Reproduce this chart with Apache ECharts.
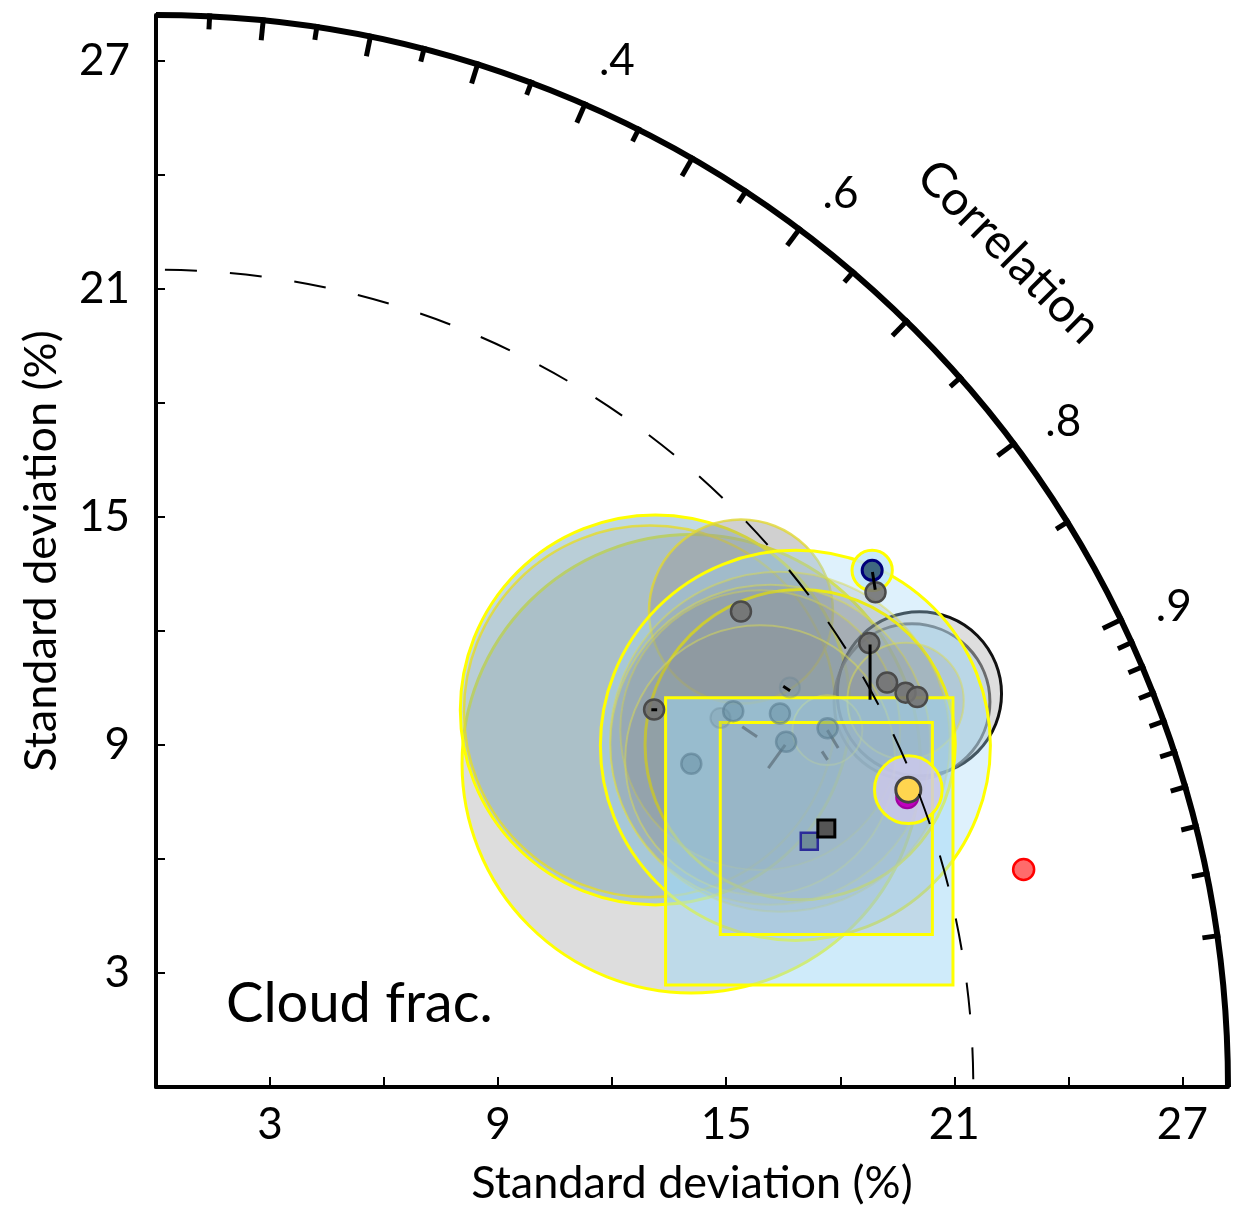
<!DOCTYPE html>
<html>
<head>
<meta charset="UTF-8">
<title>taylor_cloud_frac</title>
<script src="https://cdn.jsdelivr.net/npm/echarts@6/dist/echarts.min.js"></script>
<style>
  html, body { margin: 0; padding: 0; background: #fff; }
  #main { width: 1242px; height: 1219px; }
</style>
</head>
<body>
<div id="main"></div>
<script>
// ---- axes ----
var sdMax = 28.2;          // outer arc
var refSd = 21.5;          // observed std (dashed arc)
var sdLabels = [3, 9, 15, 21, 27];
var corrMajor = [0.1, 0.2, 0.3, 0.4, 0.5, 0.6, 0.7, 0.8, 0.9];
var corrMinor = [0.05, 0.15, 0.25, 0.35, 0.45, 0.55, 0.65, 0.75, 0.85];
var corrFine = [0.91, 0.92, 0.93, 0.94, 0.95, 0.96, 0.97, 0.98, 0.99];
var corrLabelVals = [0.4, 0.6, 0.8, 0.9];
var corrLabelText = ['.4', '.6', '.8', '.9'];

// ---- bubbles (std, correlation, radius in std units) ----
var bubbleSd   = [16.45, 16.46, 16.32, 22.59, 22.32, 19.83, 19.07, 19.19, 18.76, 18.46, 18.5, 18.07, 20.0, 22.18, 23.23, 21.28];
var bubbleCorr = [0.856, 0.798, 0.796, 0.889, 0.891, 0.776, 0.882, 0.883, 0.875, 0.861, 0.8736, 0.8795, 0.883, 0.889, 0.811, 0.930];
var bubbleRad  = [6.03, 5.13, 4.89, 2.16, 2.05, 2.42, 5.13, 4.08, 4.47, 3.68, 4.21, 3.55, 0.92, 1.53, 0.53, 0.89];
var bubbleKind = ['gray', 'blueDark', 'grayFaint', 'blackEdge', 'grayEdge', 'grayDim', 'blue', 'clear',
                  'faint', 'faint', 'faint', 'faint', 'faint', 'faint', 'blueSmall', 'lavender'];

// ---- square boxes (std, correlation, half size) ----
var boxSd   = [18.36, 18.90];
var boxCorr = [0.936, 0.933];
var boxHalf = [3.78, 2.79];

// ---- markers ----
var grayDotSd   = [19.83, 16.44, 22.97, 22.10, 21.98, 22.28, 22.50];
var grayDotCorr = [0.776, 0.797, 0.824, 0.849, 0.875, 0.885, 0.890];
var lightDotSd   = [16.45, 18.90, 18.12, 19.13, 20.03];
var lightDotCorr = [0.856, 0.877, 0.838, 0.858, 0.882];
var faintDotSd   = [17.74, 19.71];
var faintDotCorr = [0.837, 0.846];
var blueDot    = [23.23, 0.811];
var yellowDot  = [21.28, 0.930];
var magentaDot = [21.18, 0.933];
var redDot     = [23.53, 0.970];
var blackSquare = [18.90, 0.933];
var blueSquare  = [18.36, 0.936];

// ---- connecting segments [sd1, corr1, sd2, corr2] ----
var darkSegs = [[23.21, 0.812, 23.0, 0.8226], [22.10, 0.850, 21.37, 0.879],
                [19.58, 0.8427, 19.67, 0.848], [16.38, 0.7955, 16.50, 0.799]];
var graySegs = [[18.16, 0.887, 18.84, 0.8785], [18.10, 0.852, 18.30, 0.864],
                [20.0, 0.883, 20.04, 0.8955], [19.62, 0.893, 19.65, 0.899]];

var FONT = 'Lato, "Open Sans", sans-serif';

function xy(sd, c) { return [sd * c, sd * Math.sqrt(1 - c * c)]; }

var bubbleStyle = {
  gray:      { fill: 'rgba(170,170,170,0.4)',  stroke: '#ffff00', w: 3 },
  blueDark:  { fill: 'rgba(130,180,200,0.5)',  stroke: '#ffff00', w: 3 },
  grayFaint: { fill: 'rgba(150,150,150,0.15)', stroke: 'rgba(230,220,40,0.8)', w: 2.5 },
  blackEdge: { fill: 'rgba(195,195,195,0.55)', stroke: '#111', w: 3 },
  grayEdge:  { fill: 'rgba(150,200,225,0.3)',  stroke: 'rgba(80,80,80,0.8)', w: 3 },
  grayDim:   { fill: 'rgba(150,150,150,0.45)', stroke: 'rgba(225,215,50,0.8)', w: 2.5 },
  blue:      { fill: 'rgba(160,215,245,0.35)', stroke: '#ffff00', w: 3 },
  clear:     { fill: 'rgba(140,140,140,0.15)', stroke: '#ffff00', w: 3 },
  faint:     { fill: 'rgba(130,130,130,0.16)', stroke: 'rgba(220,220,80,0.5)', w: 2 },
  blueSmall: { fill: 'rgba(190,230,250,0.85)', stroke: '#ffff00', w: 3 },
  lavender:  { fill: 'rgba(205,200,235,0.8)',  stroke: '#ffff00', w: 3 }
};

var bubbleData = bubbleSd.map(function (s, i) {
  var p = xy(s, bubbleCorr[i]);
  return [p[0], p[1], bubbleRad[i], i];
});
// the two tiny bubbles are drawn above the boxes
var bigBubbles = bubbleData.filter(function (d) { return bubbleKind[d[3]] !== 'blueSmall' && bubbleKind[d[3]] !== 'lavender'; });
var smallBubbles = bubbleData.filter(function (d) { return bubbleKind[d[3]] === 'blueSmall' || bubbleKind[d[3]] === 'lavender'; });
var boxData = boxSd.map(function (s, i) {
  var p = xy(s, boxCorr[i]);
  return [p[0], p[1], boxHalf[i], i];
});
function pts(sds, cs) {
  return sds.map(function (s, i) { return xy(s, cs[i]); });
}
function one(p) { return [xy(p[0], p[1])]; }
function segData(list) {
  return list.map(function (g) {
    var a = xy(g[0], g[1]), b = xy(g[2], g[3]);
    return [a[0], a[1], b[0], b[1]];
  });
}
var tickData = [];
corrMajor.forEach(function (c) { tickData.push(xy(sdMax, c).concat([c, 17])); });
corrMinor.forEach(function (c) { tickData.push(xy(sdMax, c).concat([c, 10])); });
corrFine.forEach(function (c) { tickData.push(xy(sdMax, c).concat([c, 12])); });
// labels sit just outside the arc, nudged slightly toward higher correlation
var labelData = corrLabelVals.map(function (c, i) {
  var a = Math.acos(c) - 0.6 * Math.PI / 180;
  return [29.6 * Math.cos(a), 29.6 * Math.sin(a), i];
});

var myChart = echarts.init(document.getElementById('main'));

function renderBubble(params, api) {
  var c = api.coord([api.value(0), api.value(1)]);
  var r = api.size([api.value(2), 0])[0];
  var st = bubbleStyle[bubbleKind[api.value(3)]];
  return { type: 'circle', shape: { cx: c[0], cy: c[1], r: r },
           style: { fill: st.fill, stroke: st.stroke, lineWidth: st.w } };
}

function dotSeries(data, size, fill, border, bw, symbol) {
  return {
    type: 'scatter', data: data, symbol: symbol || 'circle', symbolSize: size, z: 6,
    itemStyle: { color: fill, borderColor: border, borderWidth: bw, opacity: 1 },
    silent: true
  };
}

option = {
  animation: false,
  backgroundColor: '#fff',
  grid: { left: 156, top: 15, width: 1072, height: 1072, outerBoundsMode: 'none' },
  xAxis: {
    type: 'value', min: 0, max: sdMax, interval: 3,
    name: 'Standard deviation (%)', nameLocation: 'middle', nameGap: 74,
    nameTextStyle: { fontSize: 45, fontFamily: FONT, color: '#000' },
    axisLine: { lineStyle: { color: '#000', width: 4 } },
    axisTick: { inside: true, length: 10, lineStyle: { color: '#000', width: 2 } },
    axisLabel: {
      fontSize: 44, fontFamily: FONT, color: '#000', margin: 16,
      formatter: function (v) { return sdLabels.indexOf(v) >= 0 ? String(v) : ''; }
    },
    splitLine: { show: false }
  },
  yAxis: {
    type: 'value', min: 0, max: sdMax, interval: 3,
    name: 'Standard deviation (%)', nameLocation: 'middle', nameGap: 92,
    nameTextStyle: { fontSize: 45, fontFamily: FONT, color: '#000' },
    axisLine: { lineStyle: { color: '#000', width: 4 } },
    axisTick: { inside: true, length: 9, lineStyle: { color: '#000', width: 2 } },
    axisLabel: {
      fontSize: 44, fontFamily: FONT, color: '#000', margin: 26,
      formatter: function (v) { return sdLabels.indexOf(v) >= 0 ? String(v) : ''; }
    },
    splitLine: { show: false }
  },
  graphic: [{
    type: 'text', left: 226, top: 976,
    style: { text: 'Cloud frac.', fontSize: 56, fontFamily: FONT, fill: '#000' }
  }],
  series: [
    {
      type: 'custom', data: bigBubbles, encode: { x: 0, y: 1 }, z: 2, clip: false, silent: true,
      renderItem: renderBubble
    },
    {
      // square boxes
      type: 'custom', data: boxData, encode: { x: 0, y: 1 }, z: 3, clip: false, silent: true,
      renderItem: function (params, api) {
        var c = api.coord([api.value(0), api.value(1)]);
        var h = api.size([api.value(2), 0])[0];
        var fill = api.value(3) === 0 ? 'rgba(160,215,245,0.5)' : 'rgba(150,165,180,0.25)';
        return { type: 'rect', shape: { x: c[0] - h, y: c[1] - h, width: 2 * h, height: 2 * h },
                 style: { fill: fill, stroke: '#ffff00', lineWidth: 3 } };
      }
    },
    {
      type: 'custom', data: smallBubbles, encode: { x: 0, y: 1 }, z: 4, clip: false, silent: true,
      renderItem: renderBubble
    },
    {
      type: 'custom', data: segData(graySegs), encode: { x: [0, 2], y: [1, 3] }, z: 4, silent: true,
      renderItem: function (params, api) {
        var a = api.coord([api.value(0), api.value(1)]);
        var b = api.coord([api.value(2), api.value(3)]);
        return { type: 'line', shape: { x1: a[0], y1: a[1], x2: b[0], y2: b[1] },
                 style: { stroke: 'rgba(80,95,105,0.6)', lineWidth: 3 } };
      }
    },
    dotSeries(pts(faintDotSd, faintDotCorr), 20, 'rgba(110,140,155,0.25)', 'rgba(100,130,145,0.3)', 2),
    dotSeries(pts(lightDotSd, lightDotCorr), 20, 'rgba(100,140,160,0.5)', 'rgba(85,120,140,0.55)', 2.5),
    dotSeries(pts(grayDotSd, grayDotCorr), 20, 'rgba(115,115,115,0.9)', '#4a4a4a', 2.5),
    dotSeries(one(blueDot), 20, '#3f6880', '#00007a', 3),
    dotSeries(one(magentaDot), 22, '#c000c0', '#a000a0', 2),
    dotSeries(one(yellowDot), 25, '#ffd54f', '#444', 3),
    dotSeries(one(redDot), 21, '#ff6b6b', '#ff0000', 2.5),
    dotSeries(one(blueSquare), 17, '#6e8c99', '#2b2b99', 2.5, 'rect'),
    dotSeries(one(blackSquare), 17, '#555', '#000', 3, 'rect'),
    {
      type: 'custom', data: segData(darkSegs), encode: { x: [0, 2], y: [1, 3] }, z: 7, silent: true,
      renderItem: function (params, api) {
        var a = api.coord([api.value(0), api.value(1)]);
        var b = api.coord([api.value(2), api.value(3)]);
        return { type: 'line', shape: { x1: a[0], y1: a[1], x2: b[0], y2: b[1] },
                 style: { stroke: '#000', lineWidth: 3 } };
      }
    },
    {
      // reference std arc (dashed) and outer arc
      type: 'custom', data: [[0, 0, refSd, 0], [0, 0, sdMax, 1]], encode: { x: 0, y: 1 }, z: 8, clip: false, silent: true,
      renderItem: function (params, api) {
        var o = api.coord([0, 0]);
        var r = api.size([api.value(2), 0])[0];
        var outer = api.value(3) === 1;
        return { type: 'arc',
                 shape: { cx: o[0], cy: o[1], r: r, startAngle: -Math.PI / 2, endAngle: 0, clockwise: true },
                 style: { fill: 'none', stroke: '#000', lineWidth: outer ? 6 : 2,
                          lineDash: outer ? null : [32, 33], lineDashOffset: outer ? 0 : 56 } };
      }
    },
    {
      // correlation ticks
      type: 'custom', data: tickData, encode: { x: 0, y: 1 }, z: 8, clip: false, silent: true,
      renderItem: function (params, api) {
        var p = api.coord([api.value(0), api.value(1)]);
        var th = Math.acos(api.value(2));
        var len = api.value(3) + 3;
        return { type: 'line',
                 shape: { x1: p[0] + 3 * Math.cos(th), y1: p[1] - 3 * Math.sin(th),
                          x2: p[0] - len * Math.cos(th), y2: p[1] + len * Math.sin(th) },
                 style: { stroke: '#000', lineWidth: 5 } };
      }
    },
    {
      // correlation labels
      type: 'custom', data: labelData, encode: { x: 0, y: 1 }, z: 8, clip: false, silent: true,
      renderItem: function (params, api) {
        var p = api.coord([api.value(0), api.value(1)]);
        return { type: 'text', x: p[0], y: p[1],
                 style: { text: corrLabelText[api.value(2)], fontSize: 44, fontFamily: FONT,
                          fill: '#000', align: 'center', verticalAlign: 'middle' } };
      }
    },
    {
      // "Correlation" title along the arc
      type: 'custom', data: [xy(31.4, Math.cos(44.4 * Math.PI / 180))], encode: { x: 0, y: 1 }, z: 8, clip: false, silent: true,
      renderItem: function (params, api) {
        var p = api.coord([api.value(0), api.value(1)]);
        return { type: 'text', x: p[0], y: p[1], rotation: -Math.PI / 4,
                 style: { text: 'Correlation', fontSize: 48, fontFamily: FONT,
                          fill: '#000', align: 'center', verticalAlign: 'middle' } };
      }
    }
  ]
};
myChart.setOption(option);
</script>
</body>
</html>
